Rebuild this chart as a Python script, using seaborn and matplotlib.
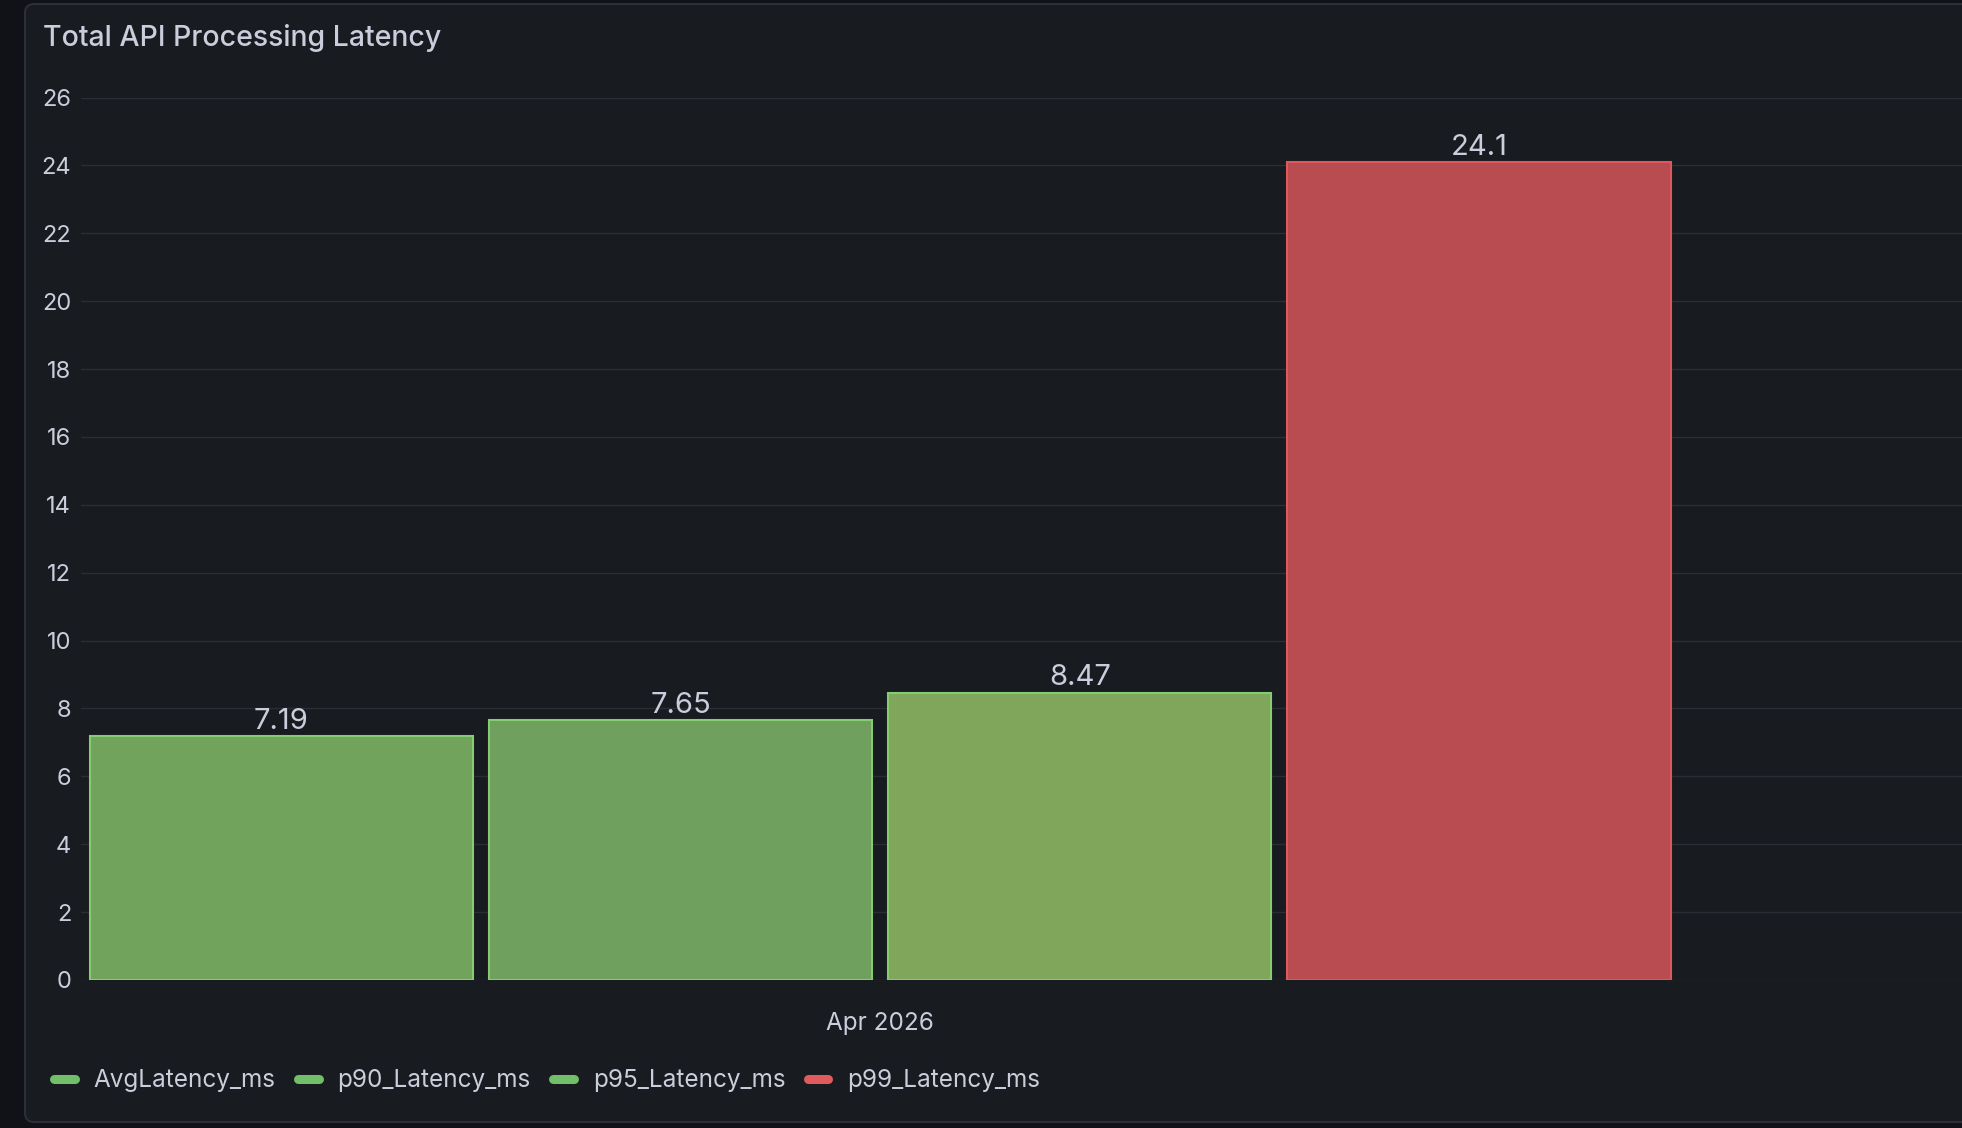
import pandas as pd
import numpy as np

import matplotlib
matplotlib.use('Agg')
import matplotlib.pyplot as plt
import seaborn as sns
from matplotlib.lines import Line2D
from matplotlib.patches import FancyBboxPatch
from matplotlib.transforms import IdentityTransform


# =========================
#  DATA
# =========================

metrics = ['AvgLatency_ms', 'p90_Latency_ms', 'p95_Latency_ms', 'p99_Latency_ms']
latency_ms = [7.19, 7.65, 8.47, 24.1]
period_label = 'Apr 2026'
y_ticks = list(range(0, 27, 2))

bar_fill = ['#72a35c', '#6fa05d', '#7fa65b', '#b84c50']
bar_edge = ['#86cc73', '#86cc73', '#86cc73', '#e0585c']
legend_colors = ['#73bf69', '#73bf69', '#73bf69', '#e05b5e']

OUTSIDE_BG = '#111217'
PANEL_BG = '#181b1f'
TEXT = '#ccccdc'
GRID = '#2a2d33'

W, H = 1962, 1128


# =========================
#  PLOT
# =========================

def main():
    sns.set_theme(style='dark')
    plt.rcParams['font.family'] = ['Inter', 'DejaVu Sans']

    fig = plt.figure(figsize=(W / 100, H / 100), dpi=100, facecolor=OUTSIDE_BG)

    # grafana-ish panel behind everything
    panel = FancyBboxPatch((25, 6), W + 40, 1118,
                           boxstyle='round,pad=0,rounding_size=9',
                           transform=IdentityTransform(),
                           facecolor=PANEL_BG, edgecolor='#2c2f35', linewidth=1.5,
                           zorder=0)
    fig.add_artist(panel)

    ax = fig.add_axes([81 / W, 1 - 980 / H, 1 - 81 / W, (980 - 97.6) / H])
    ax.set_facecolor('none')

    df = pd.DataFrame({'metric': metrics, 'latency': latency_ms})
    sns.barplot(data=df, x='metric', y='latency', hue='metric',
                palette=dict(zip(metrics, bar_fill)), saturation=1,
                width=0.96, legend=False, ax=ax, zorder=3)

    for i, cont in enumerate(ax.containers):
        for p in cont:
            p.set_edgecolor(bar_edge[i])
            p.set_linewidth(1.5)
        ax.bar_label(cont, fmt='{:.3g}', padding=1, color=TEXT, fontsize=21)

    ax.set_ylim(0, 26)
    ax.set_xlim(-0.502, 4.21)
    ax.set_yticks(y_ticks)
    ax.set_xticks([1.5])
    ax.set_xticklabels([period_label])
    ax.set_xlabel('')
    ax.set_ylabel('')
    ax.tick_params(axis='y', length=0, pad=7, labelsize=17, labelcolor=TEXT)
    ax.tick_params(axis='x', length=0, pad=23, labelsize=17.5, labelcolor=TEXT)

    ax.yaxis.grid(True, color=GRID, linewidth=1)
    ax.xaxis.grid(False)
    ax.set_axisbelow(True)
    for s in ax.spines.values():
        s.set_visible(False)

    fig.text(43 / W, 1 - 38 / H, 'Total API Processing Latency',
             color=TEXT, fontsize=20.5, fontweight='medium', va='center', ha='left')

    handles = [Line2D([0], [0], color=c, linewidth=6.5, solid_capstyle='round')
               for c in legend_colors]
    fig.legend(handles, metrics, loc='center left',
               bbox_to_anchor=(54 / W, 1 - 1081 / H), bbox_transform=fig.transFigure,
               ncol=4, frameon=False, fontsize=17.5, labelcolor=TEXT,
               handlelength=0.85, handletextpad=0.78, columnspacing=0.92,
               borderpad=0, borderaxespad=0)

    fig.savefig('out.png', dpi=100, facecolor=OUTSIDE_BG)
    plt.close(fig)


if __name__ == '__main__':
    main()
